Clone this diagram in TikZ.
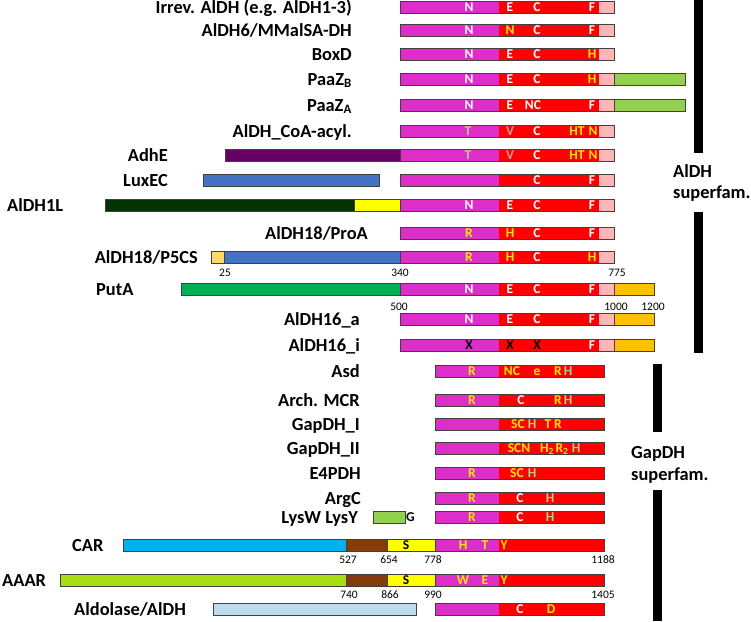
\documentclass[tikz,border=0pt]{standalone}
\usepackage{fontspec}
\setmainfont{Carlito}
\definecolor{mg}{RGB}{222,45,200}
\definecolor{rd}{RGB}{255,0,0}
\definecolor{lp}{RGB}{255,182,182}
\definecolor{lg}{RGB}{146,208,80}
\definecolor{dpur}{RGB}{102,0,102}
\definecolor{bl}{RGB}{68,114,196}
\definecolor{dgr}{RGB}{0,51,0}
\definecolor{yl}{RGB}{255,255,0}
\definecolor{lor}{RGB}{255,217,102}
\definecolor{pgr}{RGB}{0,176,80}
\definecolor{org}{RGB}{255,192,0}
\definecolor{cyb}{RGB}{0,176,240}
\definecolor{brn}{RGB}{132,60,12}
\definecolor{lime}{RGB}{170,222,20}
\definecolor{lbl}{RGB}{189,221,238}
\definecolor{ty}{RGB}{255,232,0}
\definecolor{tg}{RGB}{169,209,142}
\definecolor{tv}{RGB}{200,160,160}
\definecolor{bdc}{RGB}{64,64,64}
\tikzset{
  bd/.style={draw=bdc,line width=0.9pt},
  let/.style={font=\fontsize{13.5}{14}\selectfont\bfseries,inner sep=0pt,anchor=base},
  lab/.style={font=\fontsize{18.4}{20}\selectfont\bfseries,inner sep=0pt,anchor=base east},
  labl/.style={font=\fontsize{18.4}{20}\selectfont\bfseries,inner sep=0pt,anchor=base west},
  num/.style={font=\fontsize{11.5}{12}\selectfont,inner sep=0pt,anchor=base},
  bar/.style={fill=black}
}
\newcounter{lc}
\newcommand\bx[4]{\draw[bd,fill=#4] (#1,{#3-6}) rectangle (#2,{#3+6});}
\newcommand\aldh[1]{\fill[mg] (400,{#1-6}) rectangle (499,{#1+6});
  \fill[rd] (499,{#1-6}) rectangle (599,{#1+6});
  \fill[lp] (599,{#1-6}) rectangle (614,{#1+6});
  \draw[bd] (400,{#1-6}) rectangle (614,{#1+6});}
\newcommand\gap[1]{\fill[mg] (435,{#1-6}) rectangle (499,{#1+6});
  \fill[rd] (499,{#1-6}) rectangle (604,{#1+6});
  \draw[bd] (435,{#1-6}) rectangle (604,{#1+6});}
\newcommand\lt[4]{\stepcounter{lc}\node[let,text=#4] (l\thelc) at (#1,{#2+4.4}) {#3};}
\newcommand\nm[3]{\stepcounter{lc}\node[num] (n\thelc) at (#1,{#2+4}) {#3};}
\begin{document}
\begin{tikzpicture}[x=1pt,y=-1pt]
\useasboundingbox (0,0) rectangle (751,621);
% ---------- AlDH superfamily rows ----------
\aldh{7.5}
\lt{469}{7.5}{N}{white}\lt{510}{7.5}{E}{white}\lt{537}{7.5}{C}{white}\lt{592}{7.5}{F}{white}
\node[lab] (t1) at (352,13.5) {Irrev. AlDH (e.g. AlDH1-3)};
\aldh{30}
\lt{469}{30}{N}{white}\lt{510}{30}{N}{ty}\lt{537}{30}{C}{white}\lt{592}{30}{F}{white}
\node[lab] (t2) at (352,36) {AlDH6/MMalSA-DH};
\aldh{54.5}
\lt{469}{54.5}{N}{white}\lt{510}{54.5}{E}{white}\lt{537}{54.5}{C}{white}\lt{592}{54.5}{H}{ty}
\node[lab] (t3) at (352,60.5) {BoxD};
\aldh{79}\bx{614}{685}{79}{lg}
\lt{469}{79}{N}{white}\lt{510}{79}{E}{white}\lt{537}{79}{C}{white}\lt{592}{79}{H}{ty}
\node[lab] (t4) at (352,85) {PaaZ\textsubscript{B}};
\aldh{105}\bx{614}{685}{105}{lg}
\lt{469}{105}{N}{white}\lt{510}{105}{E}{white}\lt{533}{105}{NC}{white}\lt{592}{105}{F}{white}
\node[lab] (t5) at (352,111) {PaaZ\textsubscript{A}};
\aldh{131.5}
\lt{468}{131.5}{T}{tg}\lt{510}{131.5}{V}{tv}\lt{537}{131.5}{C}{white}\lt{577}{131.5}{HT}{ty}\lt{593}{131.5}{N}{ty}
\node[lab] (t6) at (352,137.5) {AlDH\_CoA-acyl.};
\bx{225}{400}{155}{dpur}\aldh{155}
\lt{468}{155}{T}{tg}\lt{510}{155}{V}{tv}\lt{537}{155}{C}{white}\lt{577}{155}{HT}{ty}\lt{593}{155}{N}{ty}
\node[lab] (t7) at (168,161) {AdhE};
\bx{203}{379}{180}{bl}\aldh{180}
\lt{537}{180}{C}{white}\lt{592}{180}{F}{white}
\node[lab] (t8) at (168,186) {LuxEC};
\bx{105}{354}{205.5}{dgr}\bx{354}{400}{205.5}{yl}\aldh{205.5}
\lt{469}{205.5}{N}{white}\lt{510}{205.5}{E}{white}\lt{537}{205.5}{C}{white}\lt{592}{205.5}{F}{white}
\node[labl] (t9) at (7,211.5) {AlDH1L};
\aldh{233}
\lt{469}{233}{R}{ty}\lt{510}{233}{H}{ty}\lt{537}{233}{C}{white}\lt{592}{233}{F}{white}
\node[lab] (t10) at (368,239) {AlDH18/ProA};
\bx{211}{224}{257}{lor}\bx{224}{400}{257}{bl}\aldh{257}
\lt{469}{257}{R}{ty}\lt{510}{257}{H}{ty}\lt{537}{257}{C}{white}\lt{592}{257}{H}{ty}
\node[lab] (t11) at (198,263) {AlDH18/P5CS};
\nm{225}{272}{25}\nm{400}{272}{340}\nm{617}{272}{775}
\bx{181}{400}{289}{pgr}\aldh{289}\bx{614}{654}{289}{org}
\lt{469}{289}{N}{white}\lt{510}{289}{E}{white}\lt{537}{289}{C}{white}\lt{592}{289}{F}{white}
\node[labl] (t12) at (96,295) {PutA};
\nm{399}{306}{500}\nm{616}{306}{1000}\nm{653}{306}{1200}
\aldh{319.5}\bx{614}{654}{319.5}{org}
\lt{469}{319.5}{N}{white}\lt{510}{319.5}{E}{white}\lt{537}{319.5}{C}{white}\lt{592}{319.5}{F}{white}
\node[lab] (t13) at (360,325.5) {AlDH16\_a};
\aldh{345}\bx{614}{654}{345}{org}
\lt{469}{345}{X}{black}\lt{510}{345}{X}{black}\lt{537}{345}{X}{black}\lt{592}{345}{F}{white}
\node[lab] (t14) at (360,351) {AlDH16\_i};
% ---------- GapDH superfamily rows ----------
\gap{371}
\lt{472}{371}{R}{ty}\lt{512}{371}{NC}{ty}\lt{537}{371}{e}{ty}\lt{558}{371}{R}{ty}\lt{568}{371}{H}{tg}
\node[lab] (t15) at (360,377) {Asd};
\gap{400}
\lt{472}{400}{R}{ty}\lt{521}{400}{C}{white}\lt{558}{400}{R}{ty}\lt{568}{400}{H}{tg}
\node[lab] (t16) at (360,406) {Arch. MCR};
\gap{424.5}
\lt{518}{424.5}{SC}{ty}\lt{532}{424.5}{H}{tg}\lt{548}{424.5}{T}{ty}\lt{558}{424.5}{R}{ty}
\node[lab] (t17) at (360,430.5) {GapDH\_I};
\gap{448}
\lt{519}{448}{SCN}{ty}\lt{547}{448}{H\textsubscript{2}}{ty}\lt{562}{448}{R\textsubscript{2}}{ty}\lt{576}{448}{H}{tg}
\node[lab] (t18) at (360,454) {GapDH\_II};
\gap{473}
\lt{472}{473}{R}{ty}\lt{517}{473}{SC}{ty}\lt{532}{473}{H}{tg}
\node[lab] (t19) at (361,479) {E4PDH};
\gap{498}
\lt{472}{498}{R}{ty}\lt{520}{498}{C}{white}\lt{550}{498}{H}{tg}
\node[lab] (t20) at (361,504) {ArgC};
\bx{373}{405}{517.5}{lg}\gap{517.5}
\node[let,anchor=base west] (g1) at (406,521.9) {G};
\lt{472}{517.5}{R}{ty}\lt{520}{517.5}{C}{white}\lt{550}{517.5}{H}{tg}
\node[lab] (t21) at (358,523.5) {LysW LysY};
% ---------- CAR / AAAR / Aldolase ----------
\bx{123}{346}{545.5}{cyb}\bx{346}{387}{545.5}{brn}\bx{387}{435}{545.5}{yl}\gap{545.5}
\lt{406}{545.5}{S}{black}\lt{463}{545.5}{H}{ty}\lt{485}{545.5}{T}{ty}\lt{504}{545.5}{Y}{ty}
\node[labl] (t22) at (72,551.5) {CAR};
\nm{348}{559}{527}\nm{389}{559}{654}\nm{433}{559}{778}\nm{603}{559}{1188}
\bx{60}{346}{580.5}{lime}\bx{346}{387}{580.5}{brn}\bx{387}{435}{580.5}{yl}\gap{580.5}
\lt{406}{580.5}{S}{black}\lt{463}{580.5}{W}{ty}\lt{485}{580.5}{E}{ty}\lt{504}{580.5}{Y}{ty}
\node[labl] (t23) at (2,586.5) {AAAR};
\nm{349}{594}{740}\nm{390}{594}{866}\nm{433}{594}{990}\nm{603}{594}{1405}
\bx{213}{416}{609.5}{lbl}\gap{609.5}
\lt{520}{609.5}{C}{white}\lt{551}{609.5}{D}{ty}
\node[labl] (t24) at (74,615.5) {Aldolase/AlDH};
% ---------- superfamily bars ----------
\fill[bar] (694,0) rectangle (703,153);
\fill[bar] (694,212) rectangle (703,353);
\node[labl] (s1) at (673,177) {AlDH};
\node[labl] (s2) at (673,198) {superfam.};
\fill[bar] (653,364) rectangle (662,432);
\fill[bar] (653,490) rectangle (662,621);
\node[labl] (s3) at (631,458) {GapDH};
\node[labl] (s4) at (631,480) {superfam.};
\end{tikzpicture}
\end{document}
